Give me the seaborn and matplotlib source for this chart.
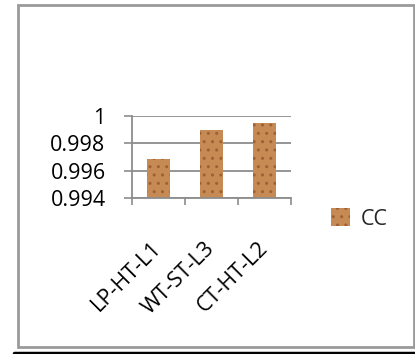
import matplotlib
matplotlib.use("Agg")
import matplotlib.pyplot as plt
import seaborn as sns
import pandas as pd
from matplotlib.patches import Rectangle, Patch
from matplotlib.lines import Line2D

categories = ["LP-HT-L1", "WT-ST-L3", "CT-HT-L2"]
cc_values = [0.99685, 0.99897, 0.99949]
series_name = "CC"
ytick_values = [0.994, 0.996, 0.998, 1.0]
ytick_labels = ["0.994", "0.996", "0.998", "1"]

sns.set_theme(style="white")
plt.rcParams["font.family"] = ["Open Sans", "DejaVu Sans"]

W, H = 415, 354
fig = plt.figure(figsize=(W / 100, H / 100), dpi=100)

# outer frame
fig.patches.append(Rectangle((17.5 / W, 1 - 347 / H), (414 - 17.5) / W, (347 - 5) / H,
                             transform=fig.transFigure, fill=False,
                             edgecolor="#9a9a9a", lw=2.0))
fig.lines.append(Line2D([14 / W, 1.0], [1 - 352.5 / H, 1 - 352.5 / H],
                        transform=fig.transFigure, color="black", lw=2.5))

left, right, top, bottom = 132, 291, 116, 198
ax = fig.add_axes([left / W, 1 - bottom / H, (right - left) / W, (bottom - top) / H])

df = pd.DataFrame({"cat": categories, "val": cc_values})
sns.barplot(data=df, x="cat", y="val", ax=ax, color="#C68A55", width=0.42,
            saturation=1, edgecolor="#9E6034", linewidth=0, label=series_name)
for p in ax.patches:
    p.set_hatch("..")

ax.set_ylim(0.994, 1.0)
ax.set_xlim(-0.5, 2.5)
ax.set_yticks(ytick_values)
ax.set_yticklabels(ytick_labels)
ax.yaxis.grid(True, color="#8c8c8c", lw=1.3)
ax.set_axisbelow(True)
ax.set_xlabel("")
ax.set_ylabel("")

for s in ["top", "right"]:
    ax.spines[s].set_visible(False)
for s in ["left", "bottom"]:
    ax.spines[s].set_color("#8c8c8c")
    ax.spines[s].set_linewidth(1.3)

ax.tick_params(axis="y", which="major", left=True, length=6, width=1.2,
               color="#8c8c8c", labelsize=15.5, pad=13, labelcolor="black")
ax.set_xticks([-0.5, 0.5, 1.5, 2.5], minor=True)
ax.tick_params(axis="x", which="minor", bottom=True, length=5, width=1.2, color="#8c8c8c")
ax.tick_params(axis="x", which="major", bottom=False, length=0, labelsize=15.5, pad=34,
               labelcolor="black")
for lbl in ax.get_xticklabels():
    lbl.set_rotation(45)
    lbl.set_ha("right")
    lbl.set_va("center")
    lbl.set_rotation_mode("anchor")

handle = Patch(facecolor="#C68A55", edgecolor="#9E6034", hatch="..", lw=0)
ax.legend(handles=[handle], labels=[series_name], loc="center left",
          bbox_to_anchor=(331 / W, 1 - 219 / H), bbox_transform=fig.transFigure,
          frameon=False, handlelength=0.9, handleheight=0.9, handletextpad=0.5,
          borderpad=0, borderaxespad=0, fontsize=15.5)

fig.savefig("out.png", dpi=100)
